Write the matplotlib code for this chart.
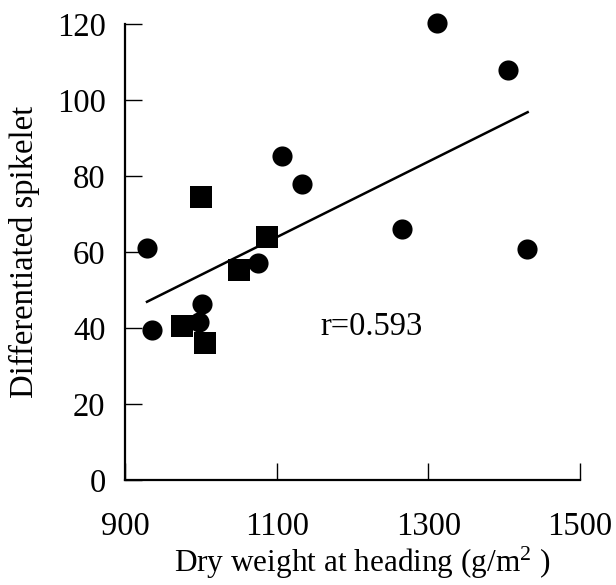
import matplotlib
matplotlib.use("Agg")
import matplotlib.pyplot as plt

plt.rcParams['font.family'] = ['Liberation Serif', 'DejaVu Serif']
plt.rcParams['mathtext.fontset'] = 'custom'
plt.rcParams['mathtext.rm'] = 'Liberation Serif'
plt.rcParams['mathtext.it'] = 'Liberation Serif:italic'

# Data
circle_x = [929, 1107, 1134, 1076, 1312, 1405, 1265, 1430, 936, 1002, 997]
circle_y = [61, 85.3, 77.9, 57, 120.2, 107.9, 66.1, 60.7, 39.6, 46.3, 41.7]
square_x = [1000, 1087, 1050, 975, 1006]
square_y = [74.6, 63.9, 55.3, 40.4, 36]
line_x = [929, 1431]
line_y = [46.9, 96.8]
x_ticks = [900, 1100, 1300, 1500]
y_ticks = [0, 20, 40, 60, 80, 100, 120]
r_label = "r=0.593"

FS = 23.5

fig = plt.figure(figsize=(6.16, 5.85), dpi=100)
ax = fig.add_axes([125/616, 1 - 480/585, (580-125)/616, (480-24)/585])

ax.plot(line_x, line_y, color='black', lw=1.8, zorder=2)
ax.scatter(circle_x, circle_y, s=210, marker='o', color='black', clip_on=False, zorder=3, linewidths=0)
ax.scatter(square_x, square_y, s=250, marker='s', color='black', clip_on=False, zorder=3, linewidths=0)

ax.set_xlim(900, 1500)
ax.set_ylim(0, 120)
ax.set_xticks(x_ticks)
ax.set_yticks(y_ticks)
ax.set_xticklabels([str(v) for v in x_ticks])
ax.set_yticklabels([str(v) for v in y_ticks])

for s in ['top', 'right']:
    ax.spines[s].set_visible(False)
for s in ['left', 'bottom']:
    ax.spines[s].set_linewidth(1.6)

ax.tick_params(axis='both', direction='in', length=12, width=1.0, labelsize=FS)
ax.tick_params(axis='x', pad=23)
ax.tick_params(axis='y', pad=14)

ax.text(1158, 40.3, r_label, fontsize=FS, ha='left', va='center')

fig.text(362/616, 4/585, r"Dry weight at heading (g/m$^{2}$ )", fontsize=22.5,
         ha='center', va='bottom')
ax.set_ylabel("Differentiated spikelet", fontsize=FS, labelpad=12)

fig.savefig("out.png", dpi=100)
